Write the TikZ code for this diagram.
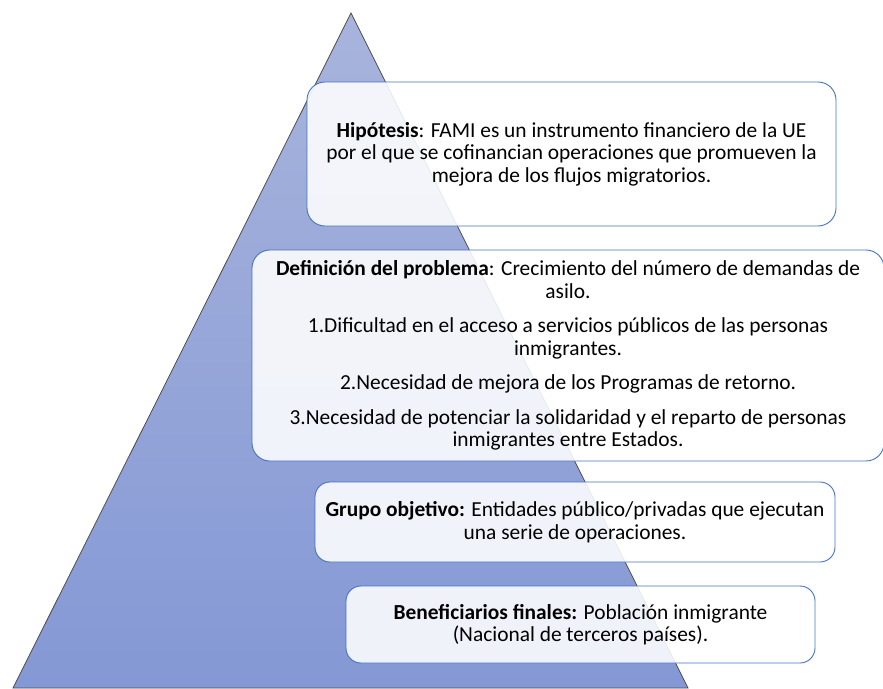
\documentclass[tikz,border=0pt]{standalone}
\usepackage{fontspec}
\setmainfont{Carlito}
\usetikzlibrary{positioning}
\definecolor{pyrtop}{RGB}{168,180,220}
\definecolor{pyrbot}{RGB}{132,152,213}
\definecolor{boxline}{RGB}{68,114,196}
\tikzset{
  caja/.style={rectangle,rounded corners=18pt,draw=boxline,line width=0.9pt,fill=white,
    fill opacity=0.88,text opacity=1,align=center,inner sep=0pt}
}

\begin{document}
\begin{tikzpicture}[x=1pt,y=-1pt,font=\fontsize{21.4}{22.5}\selectfont]
  \useasboundingbox (0,0) rectangle (883,688);
  % piramide
  \shade[top color=pyrtop,bottom color=pyrbot,draw=gray!60!black,line width=0.8pt]
    (351,13) -- (688,688) -- (13,688) -- cycle;
  % cajas
  \node (HIPO) at (571.5,154) [caja,minimum width=529,minimum height=144]
    {\textbf{Hipótesis}: FAMI es un instrumento financiero de la UE\\
     por el que se cofinancian operaciones que promueven la\\
     mejora de los flujos migratorios.};
  \node (DEF) at (568,355.5) [caja,minimum width=632,minimum height=211]
    {\textbf{Definición del problema}: Crecimiento del número de demandas de\\
     asilo.\\[12pt]
     1.Dificultad en el acceso a servicios públicos de las personas\\
     inmigrantes.\\[12pt]
     2.Necesidad de mejora de los Programas de retorno.\\[12pt]
     3.Necesidad de potenciar la solidaridad y el reparto de personas\\
     inmigrantes entre Estados.};
  \node (GRUPO) at (575,522) [caja,rounded corners=15pt,minimum width=520,minimum height=80]
    {\textbf{Grupo objetivo:} Entidades público/privadas que ejecutan\\
     una serie de operaciones.};
  \node (BENEF) at (580.5,624.5) [caja,rounded corners=15pt,minimum width=469,minimum height=77]
    {\textbf{Beneficiarios finales:} Población inmigrante\\
     (Nacional de terceros países).};
\end{tikzpicture}
\end{document}
